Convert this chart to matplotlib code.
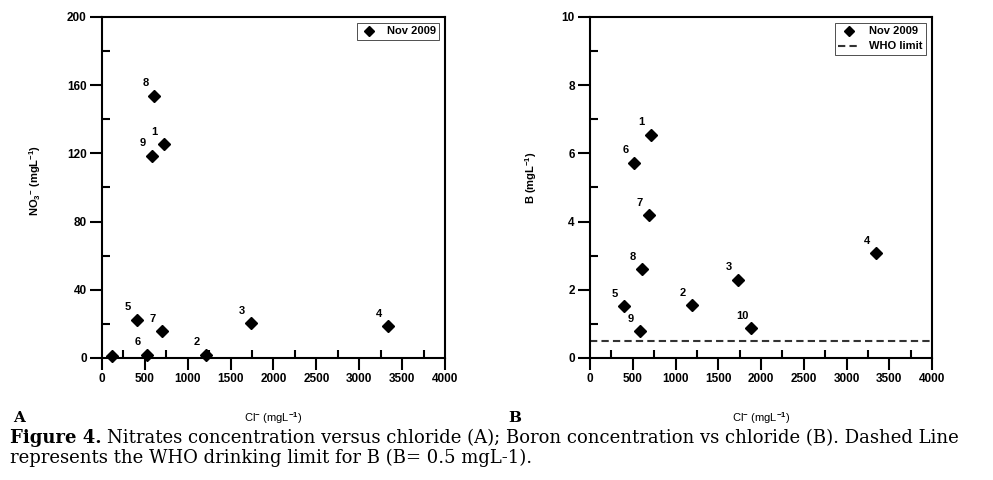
import matplotlib
matplotlib.use("Agg")
import matplotlib.pyplot as plt
from matplotlib.ticker import MultipleLocator

# ── Data ──────────────────────────────────────────────────────────────────────
# Panel A: nitrate vs chloride
cl_a = [718, 1212, 1740, 3332, 408, 524, 695, 610, 583, 115]
no3_a = [125.3, 2.0, 20.3, 18.6, 22.5, 2.0, 15.8, 153.9, 118.7, 1.2]
lab_a = ["1", "2", "3", "4", "5", "6", "7", "8", "9", ""]

# Panel B: boron vs chloride
cl_b = [710, 1194, 1729, 3340, 398, 519, 687, 609, 581, 1885]
b_b = [6.55, 1.55, 2.29, 3.07, 1.51, 5.72, 4.19, 2.60, 0.78, 0.87]
lab_b = ["1", "2", "3", "4", "5", "6", "7", "8", "9", "10"]

who_limit = 0.5
series_name = "Nov 2009"

plt.rcParams["font.family"] = ["Liberation Sans", "DejaVu Sans"]
plt.rcParams["font.weight"] = "bold"
plt.rcParams["mathtext.fontset"] = "custom"
plt.rcParams["mathtext.rm"] = "Liberation Sans"
plt.rcParams["mathtext.bf"] = "Liberation Sans:bold"
plt.rcParams["mathtext.default"] = "bf"

fig = plt.figure(figsize=(9.93, 4.80), dpi=100)
fig.patch.set_facecolor("white")

ax_a = fig.add_axes([0.1027, 0.2542, 0.3454, 0.7104])
ax_b = fig.add_axes([0.5942, 0.2542, 0.3444, 0.7104])


def style_axes(ax, ymax, ymajor, yminor):
    ax.set_xlim(0, 4000)
    ax.set_ylim(0, ymax)
    ax.xaxis.set_major_locator(MultipleLocator(500))
    ax.xaxis.set_minor_locator(MultipleLocator(250))
    ax.yaxis.set_major_locator(MultipleLocator(ymajor))
    ax.yaxis.set_minor_locator(MultipleLocator(yminor))
    ax.tick_params(which="major", direction="out", length=8.5, width=1.5,
                   labelsize=8.5, pad=2.5)
    ax.tick_params(which="minor", direction="in", length=5.5, width=1.5)
    ax.tick_params(top=False, right=False, which="both")
    for lbl in ax.get_xticklabels() + ax.get_yticklabels():
        lbl.set_fontweight("bold")
    for side in ax.spines.values():
        side.set_linewidth(1.5)
    ax.set_xlabel(r"Cl$\mathrm{^{-}}$ (mgL$\mathrm{^{-1}}$)", fontsize=8,
                  fontweight="normal")
    ax.xaxis.set_label_coords(0.5, -0.152)


def label_points(ax, xs, ys, labels):
    for x, y, t in zip(xs, ys, labels):
        if t:
            ax.annotate(t, (x, y), xytext=(-6.5, 9), textcoords="offset points",
                        ha="center", va="center", fontsize=8, fontweight="bold")


def add_legend(ax, hl, spacing):
    leg = ax.legend(loc="upper right", fontsize=8, frameon=True, fancybox=False,
                    edgecolor="black", borderaxespad=0.55, handlelength=hl,
                    handletextpad=0.8, borderpad=0.3, labelspacing=spacing,
                    markerscale=0.8)
    leg.get_frame().set_linewidth(0.6)
    for t in leg.get_texts():
        t.set_fontweight("bold")


# ── Panel A ───────────────────────────────────────────────────────────────────
ax_a.plot(cl_a, no3_a, ls="none", marker="D", ms=6.5, color="black",
          label=series_name, clip_on=False, zorder=5)
label_points(ax_a, cl_a, no3_a, lab_a)
style_axes(ax_a, 200, 40, 20)
ax_a.set_ylabel("NO$_3$$^{-}$ (mgL$^{-1}$)", fontsize=8, fontweight="bold")
ax_a.yaxis.set_label_coords(-0.172, 0.52)
add_legend(ax_a, 1.6, 0.3)

# ── Panel B ───────────────────────────────────────────────────────────────────
ax_b.plot(cl_b, b_b, ls="none", marker="D", ms=6.5, color="black",
          label=series_name, clip_on=False, zorder=5)
ax_b.axhline(who_limit, color="#333333", lw=1.5, dashes=(3.5, 2),
             label="WHO limit")
label_points(ax_b, cl_b, b_b, lab_b)
style_axes(ax_b, 10, 2, 1)
ax_b.set_ylabel("B (mgL$^{-1}$)", fontsize=8, fontweight="bold")
ax_b.yaxis.set_label_coords(-0.149, 0.53)
add_legend(ax_b, 2.0, 0.45)

# ── Panel letters and caption ─────────────────────────────────────────────────
fig.text(13 / 993, 1 - 418 / 480, "A", family="DejaVu Serif", fontsize=11,
         fontweight="bold", va="center", ha="left")
fig.text(508 / 993, 1 - 418 / 480, "B", family="DejaVu Serif", fontsize=11,
         fontweight="bold", va="center", ha="left")

cap_y1 = 1 - 438 / 480
cap_y2 = 1 - 458 / 480
t_bold = fig.text(10 / 993, cap_y1, "Figure 4.", family="DejaVu Serif",
                  fontsize=13, fontweight="bold", va="center", ha="left")
fig.canvas.draw()
bb = t_bold.get_window_extent(fig.canvas.get_renderer())
fig.text(bb.x1 / fig.bbox.width + 5 / 993, cap_y1,
         "Nitrates concentration versus chloride (A); Boron concentration vs "
         "chloride (B). Dashed Line",
         family="DejaVu Serif", fontsize=13, fontweight="normal",
         va="center", ha="left")
fig.text(10 / 993, cap_y2,
         "represents the WHO drinking limit for B (B= 0.5 mgL-1).",
         family="DejaVu Serif", fontsize=13, fontweight="normal",
         va="center", ha="left")

fig.savefig("out.png", dpi=100, facecolor="white")
